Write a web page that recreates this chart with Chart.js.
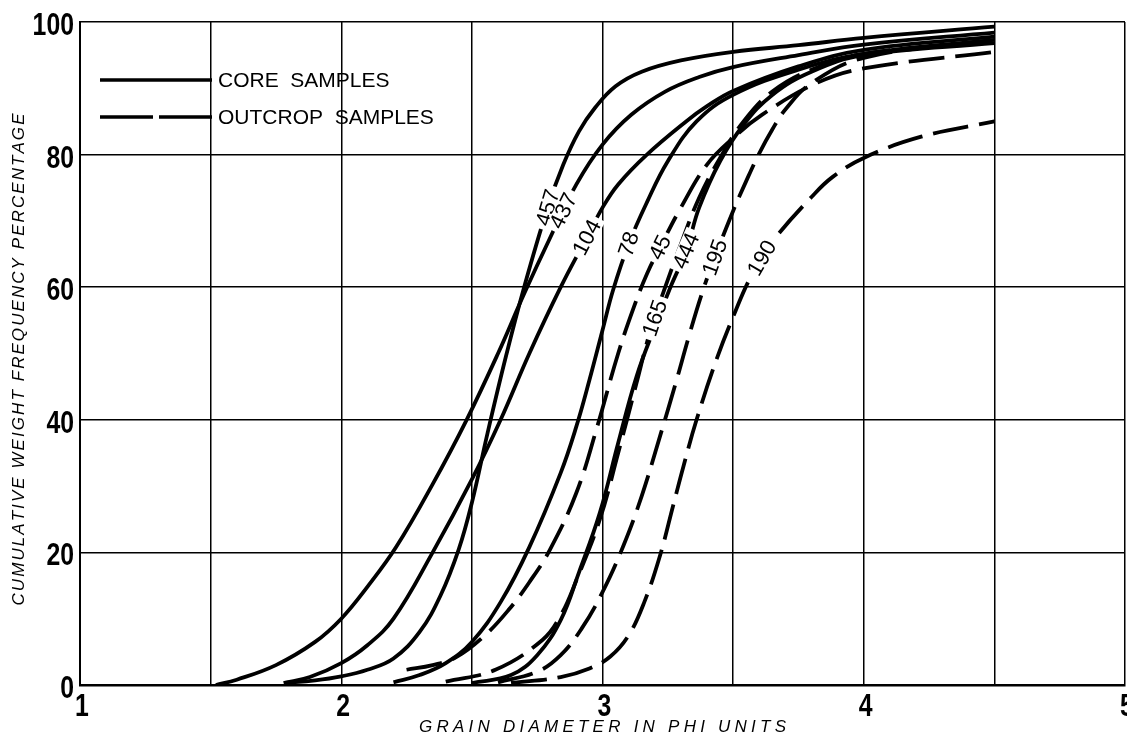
<!DOCTYPE html>
<html>
<head>
<meta charset="utf-8">
<script src="https://cdn.jsdelivr.net/npm/chart.js@4.4.1/dist/chart.umd.min.js"></script>
<style>
  html, body { margin: 0; padding: 0; background: #fff; overflow: hidden; }
</style>
</head>
<body>
<canvas id="chart" width="1127" height="738"></canvas>
<script>
// Axis ticks
const xTicks = [1, 2, 3, 4, 5]
const yTicks = [0, 20, 40, 60, 80, 100]

// Curves: grain diameter (phi) -> cumulative weight %
const s457x = [1.78, 1.9, 2.0, 2.1, 2.2, 2.3, 2.38, 2.45, 2.5, 2.56, 2.63, 2.7, 2.79, 2.85, 2.91, 2.97, 3.05, 3.15, 3.3, 3.5, 3.75, 4.0, 4.5]
const s457y = [0.3, 0.7, 1.3, 2.3, 4, 8, 13.5, 20.5, 27.5, 38, 49.5, 60, 72, 78.5, 83.5, 87, 90.3, 92.5, 94.2, 95.5, 96.5, 97.6, 99.3]

const s437x = [1.52, 1.6, 1.75, 1.9, 2.0, 2.1, 2.21, 2.35, 2.48, 2.6, 2.7, 2.8, 2.9, 3.0, 3.11, 3.24, 3.37, 3.5, 3.75, 4.0, 4.5]
const s437y = [0, 0.8, 3, 6.5, 10, 14.8, 20.8, 30.3, 40, 50, 59, 67.5, 75.5, 81.5, 86, 89.5, 91.7, 93.2, 95, 96.6, 98.4]

const s104x = [1.78, 1.88, 2.0, 2.1, 2.2, 2.35, 2.5, 2.61, 2.72, 2.84, 2.94, 3.0, 3.06, 3.17, 3.32, 3.4, 3.5, 3.75, 4.0, 4.5]
const s104y = [0.3, 1.2, 3.3, 6, 10, 20, 31, 40, 50, 60, 67.5, 72, 75.5, 80, 85, 87.3, 89.6, 93.3, 95.8, 97.8]

const s78x = [2.2, 2.3, 2.4, 2.5, 2.61, 2.72, 2.84, 2.9, 2.95, 3.0, 3.04, 3.1, 3.17, 3.25, 3.36, 3.5, 3.75, 4.0, 4.5]
const s78y = [0.4, 1.5, 3.3, 6.5, 12.5, 20.8, 32, 39, 46, 53.5, 59.5, 66.5, 72.8, 79, 85, 89, 92.8, 95.2, 97.3]

const s45x = [2.25, 2.35, 2.44, 2.55, 2.64, 2.72, 2.8, 2.9, 2.98, 3.06, 3.12, 3.17, 3.22, 3.3, 3.4, 3.5, 3.61, 3.82, 4.0, 4.5]
const s45y = [2.3, 3, 4.2, 7.5, 11.3, 15.5, 20.5, 29, 39, 50, 57, 62, 66, 72, 78.5, 82.5, 86, 90.8, 93, 95.5]

const s165x = [2.4, 2.59, 2.77, 2.84, 2.9, 2.99, 3.06, 3.13, 3.18, 3.24, 3.3, 3.37, 3.45, 3.54, 3.65, 3.8, 4.0, 4.5]
const s165y = [0.5, 2.3, 6.8, 10.5, 15.8, 25, 35, 45.5, 53, 60, 66.5, 73.5, 79.5, 85, 89.5, 92.8, 95.2, 97]

const s444x = [2.5, 2.65, 2.75, 2.84, 2.91, 2.99, 3.06, 3.13, 3.2, 3.26, 3.32, 3.37, 3.45, 3.54, 3.65, 3.8, 4.0, 4.5]
const s444y = [0.3, 1.5, 4.5, 9.8, 17, 26, 36.5, 46.5, 54, 60, 65.5, 72, 79, 84.5, 89, 92.5, 95, 96.8]

const s195x = [2.6, 2.75, 2.84, 2.92, 3.0, 3.08, 3.15, 3.22, 3.28, 3.33, 3.38, 3.43, 3.5, 3.55, 3.6, 3.65, 3.7, 3.8, 4.0, 4.5]
const s195y = [0.4, 2, 4.5, 8.5, 14, 21, 28.5, 37.5, 45.5, 52.5, 59, 64.5, 71.5, 76, 80.2, 83.8, 86.8, 90.8, 94.6, 97.3]

const s190x = [2.65, 2.84, 2.95, 3.03, 3.1, 3.16, 3.22, 3.27, 3.31, 3.36, 3.44, 3.51, 3.56, 3.61, 3.66, 3.8, 3.88, 4.0, 4.22, 4.5]
const s190y = [0.3, 1.2, 2.5, 4.3, 7.5, 12.5, 19.5, 27, 33, 40, 49.5, 56.5, 61, 64.4, 67.4, 73.6, 76.6, 79.5, 82.7, 85]

const sampleNames = ["457", "437", "104", "78", "45", "165", "444", "195", "190"]
const sampleKinds = ["core", "core", "core", "core", "outcrop", "outcrop", "core", "outcrop", "outcrop"]
const sampleX = [s457x, s437x, s104x, s78x, s45x, s165x, s444x, s195x, s190x]
const sampleY = [s457y, s437y, s104y, s78y, s45y, s165y, s444y, s195y, s190y]
// where along each curve (in phi) its number is written
const labelAt = [2.79, 2.85, 2.94, 3.1, 3.22, 3.2, 3.32, 3.43, 3.61]

const legendNames = ["CORE  SAMPLES", "OUTCROP  SAMPLES"]
const xTitle = "GRAIN DIAMETER IN PHI UNITS"
const yTitle = "CUMULATIVE WEIGHT FREQUENCY PERCENTAGE"

const plain = "'Liberation Sans', Arial, sans-serif"
const DASH = [36, 11]

// draw text with even extra spacing so it spans `width`
const drawSpaced = (ctx, text, cx, cy, width) => {
  const chars = [...text]
  const widths = chars.map((c) => ctx.measureText(c).width)
  const natural = widths.reduce((a, b) => a + b, 0)
  const gap = (width - natural) / (chars.length - 1)
  let pos = cx - width / 2
  ctx.textAlign = "left"
  chars.forEach((c, i) => {
    ctx.fillText(c, pos, cy)
    pos += widths[i] + gap
  })
}

// narrow bold tick numbers, like the lettering on the original
const tickLabels = {
  id: "tickLabels",
  afterDraw(chart) {
    const { ctx, scales } = chart
    const { x, y } = scales
    ctx.save()
    ctx.fillStyle = "#000"
    ctx.font = `bold 31px ${plain}`
    ctx.textBaseline = "alphabetic"
    const put = (text, px, py, align) => {
      ctx.save()
      ctx.translate(px, py)
      ctx.scale(0.8, 1)
      ctx.textAlign = align
      ctx.fillText(text, 0, 11)
      ctx.restore()
    }
    xTicks.forEach((v) => put(String(v), x.getPixelForValue(v) + 2, y.bottom + 20, "center"))
    yTicks.forEach((v) => put(String(v), x.left - 6, y.getPixelForValue(v) + 2, "right"))
    ctx.restore()
  },
}

const curveLabels = {
  id: "curveLabels",
  afterDatasetsDraw(chart) {
    const { ctx, scales } = chart
    const { x, y } = scales
    ctx.save()
    ctx.font = `22px ${plain}`
    ctx.textAlign = "center"
    ctx.textBaseline = "middle"
    sampleNames.forEach((name, i) => {
      const xs = sampleX[i]
      const ys = sampleY[i]
      let k = xs.findIndex((v) => v >= labelAt[i])
      if (k < 1) k = 1
      const x0 = x.getPixelForValue(xs[k - 1])
      const y0 = y.getPixelForValue(ys[k - 1])
      const x1 = x.getPixelForValue(xs[k])
      const y1 = y.getPixelForValue(ys[k])
      const t = (x.getPixelForValue(labelAt[i]) - x0) / (x1 - x0)
      const px = x0 + t * (x1 - x0)
      const py = y0 + t * (y1 - y0)
      const w = ctx.measureText(name).width
      ctx.save()
      ctx.translate(px, py)
      ctx.rotate(Math.atan2(y1 - y0, x1 - x0))
      ctx.fillStyle = "#fff"
      ctx.fillRect(-w / 2 - 4, -9, w + 8, 18)
      ctx.fillStyle = "#000"
      ctx.fillText(name, 0, 1)
      ctx.restore()
    })
    ctx.restore()
  },
}

const decorations = {
  id: "decorations",
  afterDraw(chart) {
    const { ctx, chartArea } = chart
    ctx.save()
    ctx.fillStyle = "#000"
    ctx.strokeStyle = "#000"
    // legend
    ctx.lineWidth = 3.5
    ctx.font = `21px ${plain}`
    ctx.textBaseline = "middle"
    ctx.textAlign = "left"
    const lx = chartArea.left + 20
    ;[58, 95].forEach((dy, i) => {
      const ly = chartArea.top + dy
      ctx.setLineDash(i === 0 ? [] : [53, 6])
      ctx.beginPath()
      ctx.moveTo(lx, ly)
      ctx.lineTo(lx + 112, ly)
      ctx.stroke()
      ctx.fillText(legendNames[i], lx + 118, ly + 1)
    })
    ctx.setLineDash([])
    // axis titles
    ctx.font = `italic 17px ${plain}`
    ctx.textBaseline = "middle"
    drawSpaced(ctx, xTitle, (chartArea.left + chartArea.right) / 2, 727, 367)
    ctx.translate(19, (chartArea.top + chartArea.bottom) / 2 + 6)
    ctx.rotate(-Math.PI / 2)
    drawSpaced(ctx, yTitle, 0, 0, 492)
    ctx.restore()
  },
}

const datasets = sampleNames.map((name, i) => ({
  label: name,
  data: sampleX[i].map((v, j) => ({ x: v, y: sampleY[i][j] })),
  showLine: true,
  borderColor: "#000",
  borderWidth: 3.8,
  borderDash: sampleKinds[i] === "outcrop" ? DASH : [],
  pointRadius: 0,
  tension: 0.4,
  fill: false,
}))

const gridStyle = { color: "#000", lineWidth: 1.5, drawTicks: false }

new Chart(document.getElementById("chart"), {
  type: "scatter",
  data: { datasets },
  options: {
    responsive: false,
    animation: false,
    devicePixelRatio: 1,
    layout: { padding: { top: 22, right: 2, left: 0, bottom: 0 } },
    plugins: { legend: { display: false }, tooltip: { enabled: false } },
    scales: {
      x: {
        type: "linear",
        min: xTicks[0],
        max: xTicks[xTicks.length - 1],
        grid: gridStyle,
        border: { color: "#000", width: 2.5 },
        afterFit: (scale) => { scale.height = 53 },
        ticks: { stepSize: 0.5, display: false },
      },
      y: {
        min: yTicks[0],
        max: yTicks[yTicks.length - 1],
        grid: gridStyle,
        border: { color: "#000", width: 2 },
        afterFit: (scale) => { scale.width = 80 },
        ticks: { stepSize: 20, display: false },
      },
    },
  },
  plugins: [curveLabels, tickLabels, decorations],
})
</script>
</body>
</html>
